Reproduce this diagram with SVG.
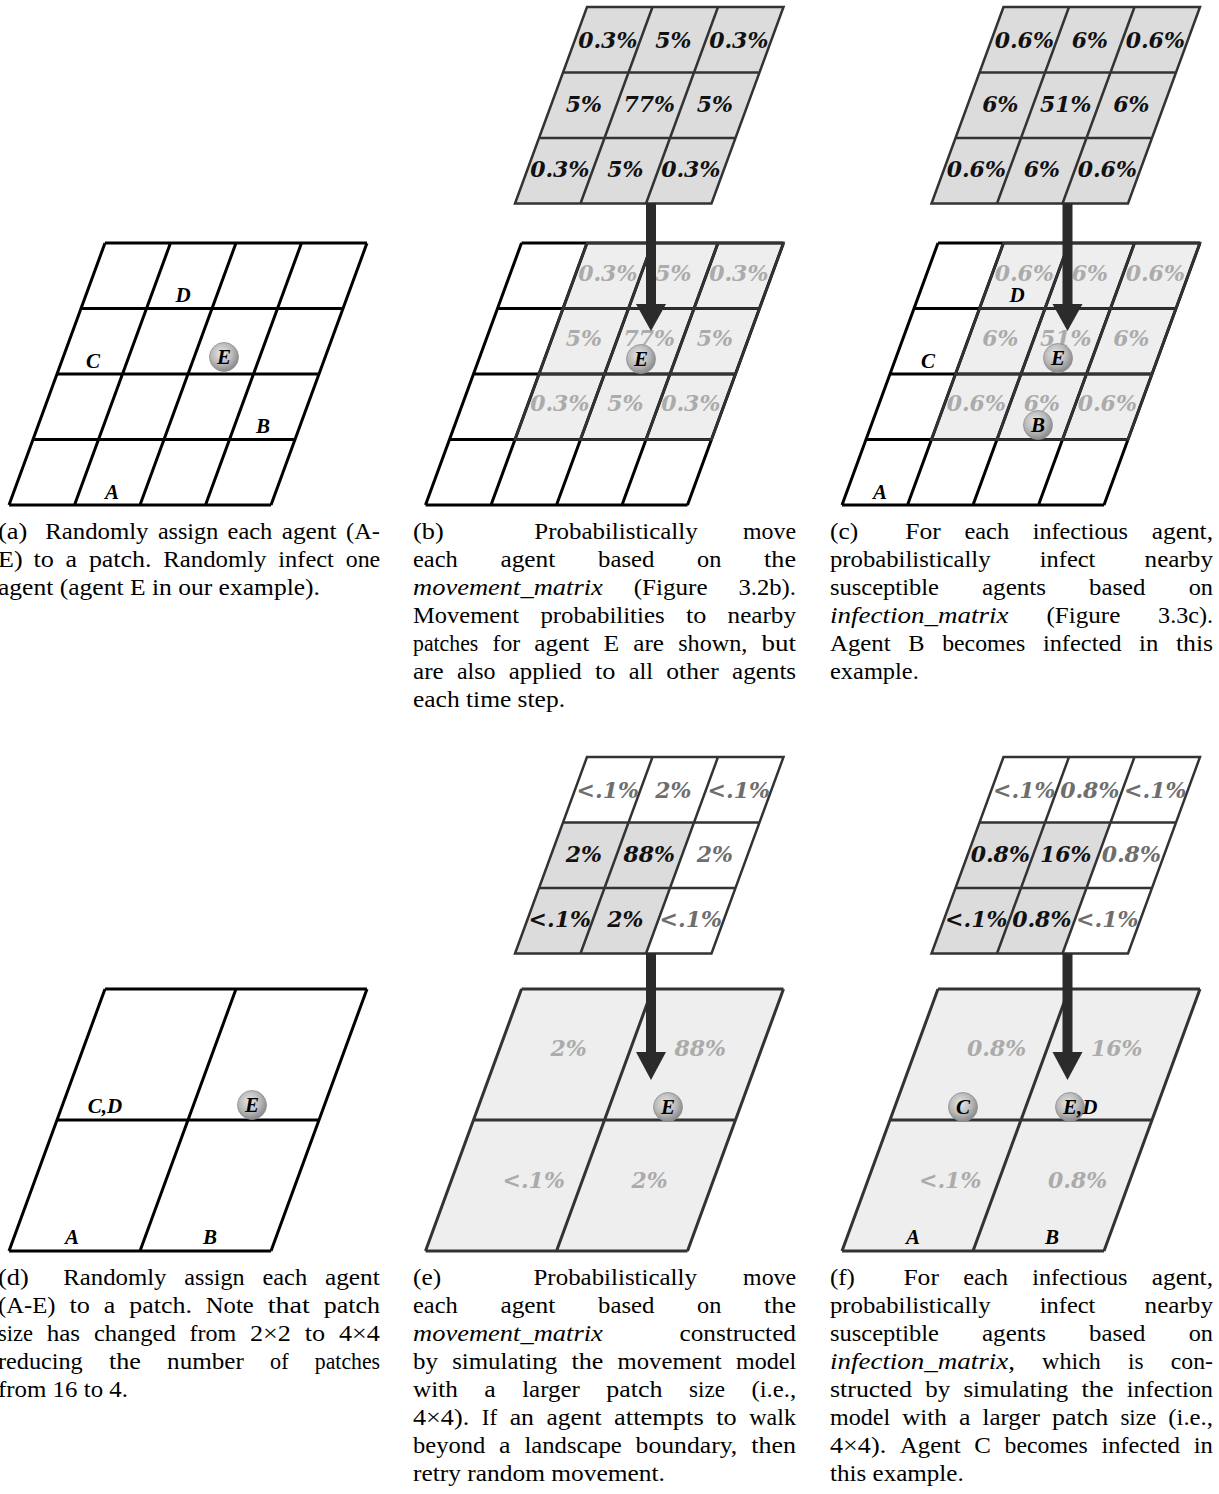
<svg xmlns="http://www.w3.org/2000/svg" width="1219" height="1494" viewBox="0 0 1219 1494">
<defs>
<style>
.cap{font-family:"Liberation Serif",serif;font-size:23px;fill:#000}
.it{font-style:italic}
.ag{font-family:"Liberation Serif",serif;font-weight:bold;font-style:italic;font-size:21px;fill:#000;text-anchor:middle}
.pc{font-family:"DejaVu Serif",serif;font-weight:bold;font-style:italic;font-size:22px;text-anchor:middle}
.ps{font-family:"DejaVu Serif",serif;font-weight:bold;font-style:italic;font-size:22px}
.k{fill:#111}.g{fill:#6e6e6e}.l{fill:#ababab}
.bk{fill:none;stroke:#000;stroke-width:3}
.dk{fill:none;stroke:#333;stroke-width:2.5}
.dk3{fill:none;stroke:#333;stroke-width:3}
.lt{fill:#eeeeee}
.mx{fill:#dcdcdc}
.wt{fill:#ffffff}
.ar{fill:#2b2b2b}
.ball{fill:url(#ball);stroke:#8f8f8f;stroke-width:0.8}
</style>
<radialGradient id="ball" cx="0.42" cy="0.38" r="0.62">
<stop offset="0" stop-color="#e8e8e8"/>
<stop offset="0.6" stop-color="#b9b9b9"/>
<stop offset="1" stop-color="#8a8a8a"/>
</radialGradient>
<path id="g4" d="M0,243H262M-24,308.5H238M-48,374H214M-72,439.5H190M-96,505H166M0,243L-96,505M65.5,243L-30.5,505M131,243L35,505M196.5,243L100.5,505M262,243L166,505"/>
<path id="g2" d="M0,989H262M-48,1120H214M-96,1251H166M0,989L-96,1251M131,989L35,1251M262,989L166,1251"/>
<path id="m3" d="M65.5,0H262L190,196.5H-6.5ZM41.5,65.5H238M17.5,131H214M131,0L59,196.5M196.5,0L124.5,196.5"/>
<path id="sub3" d="M65.5,243H262L190,439.5H-6.5ZM41.5,308.5H238M17.5,374H214M131,243L59,439.5M196.5,243L124.5,439.5"/>
</defs>
<rect width="1219" height="1494" fill="#ffffff"/>

<!-- Panel a -->
<g id="panel-a" transform="translate(105,0)">
<use href="#g4" class="bk"/>
</g>

<!-- Panel b -->
<g id="panel-b" transform="translate(521.5,0)">
<path class="lt" d="M65.5,243H262L190,439.5H-6.5Z"/>
<use href="#g4" class="bk"/>
<use href="#sub3" class="dk"/>
<g class="pc l">
<text x="86.25" y="281">0.3%</text><text x="151.75" y="281">5%</text><text x="217.25" y="281">0.3%</text>
<text x="62.25" y="346">5%</text><text x="127.75" y="346">77%</text><text x="193.25" y="346">5%</text>
<text x="38.25" y="411">0.3%</text><text x="103.75" y="411">5%</text><text x="169.25" y="411">0.3%</text>
</g>
<g id="matrix-b" transform="translate(0,7)">
<path class="mx" d="M65.5,0H262L190,196.5H-6.5Z"/>
<use href="#m3" class="dk"/>
<g class="pc k">
<text x="86.25" y="41">0.3%</text><text x="151.75" y="41">5%</text><text x="217.25" y="41">0.3%</text>
<text x="62.25" y="105">5%</text><text x="127.75" y="105">77%</text><text x="193.25" y="105">5%</text>
<text x="38.25" y="170">0.3%</text><text x="103.75" y="170">5%</text><text x="169.25" y="170">0.3%</text>
</g>
</g>
</g>

<!-- Panel c -->
<g id="panel-c" transform="translate(938,0)">
<path class="lt" d="M65.5,243H262L190,439.5H-6.5Z"/>
<use href="#g4" class="bk"/>
<use href="#sub3" class="dk"/>
<g class="pc l">
<text x="86.25" y="281">0.6%</text><text x="151.75" y="281">6%</text><text x="217.25" y="281">0.6%</text>
<text x="62.25" y="346">6%</text><text x="127.75" y="346">51%</text><text x="193.25" y="346">6%</text>
<text x="38.25" y="411">0.6%</text><text x="103.75" y="411">6%</text><text x="169.25" y="411">0.6%</text>
</g>
<g id="matrix-c" transform="translate(0,7)">
<path class="mx" d="M65.5,0H262L190,196.5H-6.5Z"/>
<use href="#m3" class="dk"/>
<g class="pc k">
<text x="86.25" y="41">0.6%</text><text x="151.75" y="41">6%</text><text x="217.25" y="41">0.6%</text>
<text x="62.25" y="105">6%</text><text x="127.75" y="105">51%</text><text x="193.25" y="105">6%</text>
<text x="38.25" y="170">0.6%</text><text x="103.75" y="170">6%</text><text x="169.25" y="170">0.6%</text>
</g>
</g>
</g>

<!-- Panel d -->
<g id="panel-d" transform="translate(105,0)">
<use href="#g2" class="bk"/>
</g>

<!-- Panel e -->
<g id="panel-e" transform="translate(521.5,0)">
<path class="lt" d="M0,989H262L166,1251H-96Z"/>
<use href="#g2" class="dk3"/>
<g class="ps l">
<text x="29" y="1056">2%</text><text x="153" y="1056">88%</text>
<text x="-19" y="1188">&lt;.1%</text><text x="110" y="1188">2%</text>
</g>
<g id="matrix-e" transform="translate(0,757)">
<path class="wt" d="M65.5,0H262L190,196.5H-6.5Z"/>
<path class="mx" d="M41.5,65.5H172.5L124.5,196.5H-6.5Z"/>
<use href="#m3" class="dk"/>
<text class="pc g" x="86.25" y="41">&lt;.1%</text><text class="pc g" x="151.75" y="41">2%</text><text class="pc g" x="217.25" y="41">&lt;.1%</text>
<text class="pc k" x="62.25" y="105">2%</text><text class="pc k" x="127.75" y="105">88%</text><text class="pc g" x="193.25" y="105">2%</text>
<text class="pc k" x="38.25" y="170">&lt;.1%</text><text class="pc k" x="103.75" y="170">2%</text><text class="pc g" x="169.25" y="170">&lt;.1%</text>
</g>
</g>

<!-- Panel f -->
<g id="panel-f" transform="translate(938,0)">
<path class="lt" d="M0,989H262L166,1251H-96Z"/>
<use href="#g2" class="dk3"/>
<g class="ps l">
<text x="29" y="1056">0.8%</text><text x="153" y="1056">16%</text>
<text x="-19" y="1188">&lt;.1%</text><text x="110" y="1188">0.8%</text>
</g>
<g id="matrix-f" transform="translate(0,757)">
<path class="wt" d="M65.5,0H262L190,196.5H-6.5Z"/>
<path class="mx" d="M41.5,65.5H172.5L124.5,196.5H-6.5Z"/>
<use href="#m3" class="dk"/>
<text class="pc g" x="86.25" y="41">&lt;.1%</text><text class="pc g" x="151.75" y="41">0.8%</text><text class="pc g" x="217.25" y="41">&lt;.1%</text>
<text class="pc k" x="62.25" y="105">0.8%</text><text class="pc k" x="127.75" y="105">16%</text><text class="pc g" x="193.25" y="105">0.8%</text>
<text class="pc k" x="38.25" y="170">&lt;.1%</text><text class="pc k" x="103.75" y="170">0.8%</text><text class="pc g" x="169.25" y="170">&lt;.1%</text>
</g>
</g>

<!-- Connectors -->
<g id="connectors" class="ar">
<rect x="646" y="203" width="10" height="102"/><polygon points="636,304 666,304 651,331"/>
<rect x="1062.5" y="203" width="10" height="102"/><polygon points="1052.5,304 1082.5,304 1067.5,331"/>
<rect x="646" y="953" width="10" height="100"/><polygon points="636,1052 666,1052 651,1080"/>
<rect x="1062.5" y="953" width="10" height="100"/><polygon points="1052.5,1052 1082.5,1052 1067.5,1080"/>
</g>

<!-- Agents -->
<g id="agents">
<g id="agents-a">
<circle class="ball" cx="224" cy="357" r="14.5"/><text class="ag" x="224" y="364">E</text>
<text class="ag" x="183" y="302">D</text><text class="ag" x="93" y="368">C</text>
<text class="ag" x="263" y="433">B</text><text class="ag" x="112" y="499">A</text>
</g>
<g id="agents-b">
<circle class="ball" cx="641" cy="359" r="14.5"/><text class="ag" x="641" y="366">E</text>
</g>
<g id="agents-c">
<text class="ag" x="1017" y="302">D</text><text class="ag" x="928" y="368">C</text>
<circle class="ball" cx="1058" cy="358" r="14.5"/><text class="ag" x="1058" y="365">E</text>
<circle class="ball" cx="1038" cy="425" r="14.5"/><text class="ag" x="1038" y="432">B</text>
<text class="ag" x="880" y="499">A</text>
</g>
<g id="agents-d">
<text class="ag" x="105" y="1113">C,D</text>
<circle class="ball" cx="252" cy="1105" r="14.5"/><text class="ag" x="252" y="1112">E</text>
<text class="ag" x="72" y="1244">A</text><text class="ag" x="210" y="1244">B</text>
</g>
<g id="agents-e">
<circle class="ball" cx="668" cy="1107" r="14.5"/><text class="ag" x="668" y="1114">E</text>
</g>
<g id="agents-f">
<circle class="ball" cx="963" cy="1107" r="14.5"/><text class="ag" x="963" y="1114">C</text>
<circle class="ball" cx="1070" cy="1107" r="14.5"/><text class="ag" x="1063" y="1114" style="text-anchor:start">E,D</text>
<text class="ag" x="913" y="1244">A</text><text class="ag" x="1052" y="1244">B</text>
</g>
</g>

<!-- Captions -->
<g id="captions" class="cap">
<!-- (a) -->
<text x="-2" y="539" textLength="29.4" lengthAdjust="spacingAndGlyphs">(a)</text>
<text x="45.3" y="539" textLength="103.2" lengthAdjust="spacingAndGlyphs">Randomly</text>
<text x="157.9" y="539" textLength="60.3" lengthAdjust="spacingAndGlyphs">assign</text>
<text x="227.6" y="539" textLength="44.7" lengthAdjust="spacingAndGlyphs">each</text>
<text x="281.7" y="539" textLength="54.9" lengthAdjust="spacingAndGlyphs">agent</text>
<text x="346" y="539" textLength="33.9" lengthAdjust="spacingAndGlyphs">(A-</text>
<text x="-2" y="567" textLength="24.6" lengthAdjust="spacingAndGlyphs">E)</text>
<text x="33.4" y="567" textLength="20.4" lengthAdjust="spacingAndGlyphs">to</text>
<text x="65.6" y="567" textLength="11.5" lengthAdjust="spacingAndGlyphs">a</text>
<text x="88.9" y="567" textLength="62.6" lengthAdjust="spacingAndGlyphs">patch.</text>
<text x="163.3" y="567" textLength="103.2" lengthAdjust="spacingAndGlyphs">Randomly</text>
<text x="278.3" y="567" textLength="55.6" lengthAdjust="spacingAndGlyphs">infect</text>
<text x="345.7" y="567" textLength="34.5" lengthAdjust="spacingAndGlyphs">one</text>
<text x="-2" y="595" textLength="322" lengthAdjust="spacingAndGlyphs">agent (agent E in our example).</text>

<!-- (b) -->
<text x="413" y="539" textLength="30.7" lengthAdjust="spacingAndGlyphs">(b)</text>
<text x="534.3" y="539" textLength="163.4" lengthAdjust="spacingAndGlyphs">Probabilistically</text>
<text x="743" y="539" textLength="53" lengthAdjust="spacingAndGlyphs">move</text>
<text x="413" y="567" textLength="44.7" lengthAdjust="spacingAndGlyphs">each</text>
<text x="500.4" y="567" textLength="54.9" lengthAdjust="spacingAndGlyphs">agent</text>
<text x="598" y="567" textLength="56.4" lengthAdjust="spacingAndGlyphs">based</text>
<text x="697.1" y="567" textLength="24.3" lengthAdjust="spacingAndGlyphs">on</text>
<text x="764.1" y="567" textLength="31.9" lengthAdjust="spacingAndGlyphs">the</text>
<text class="it" x="413" y="595" textLength="189.9" lengthAdjust="spacingAndGlyphs">movement_matrix</text>
<text x="633.7" y="595" textLength="73.9" lengthAdjust="spacingAndGlyphs">(Figure</text>
<text x="738.5" y="595" textLength="57.5" lengthAdjust="spacingAndGlyphs">3.2b).</text>
<text x="413" y="623" textLength="106.1" lengthAdjust="spacingAndGlyphs">Movement</text>
<text x="540.4" y="623" textLength="124.2" lengthAdjust="spacingAndGlyphs">probabilities</text>
<text x="685.9" y="623" textLength="20.4" lengthAdjust="spacingAndGlyphs">to</text>
<text x="727.6" y="623" textLength="68.4" lengthAdjust="spacingAndGlyphs">nearby</text>
<text x="413" y="651" textLength="65.3" lengthAdjust="spacingAndGlyphs">patches</text>
<text x="492.5" y="651" textLength="27.6" lengthAdjust="spacingAndGlyphs">for</text>
<text x="534.3" y="651" textLength="54.9" lengthAdjust="spacingAndGlyphs">agent</text>
<text x="603.4" y="651" textLength="15.7" lengthAdjust="spacingAndGlyphs">E</text>
<text x="633.3" y="651" textLength="30.7" lengthAdjust="spacingAndGlyphs">are</text>
<text x="678.2" y="651" textLength="69.1" lengthAdjust="spacingAndGlyphs">shown,</text>
<text x="761.5" y="651" textLength="34.5" lengthAdjust="spacingAndGlyphs">but</text>
<text x="413" y="679" textLength="30.7" lengthAdjust="spacingAndGlyphs">are</text>
<text x="457" y="679" textLength="38.5" lengthAdjust="spacingAndGlyphs">also</text>
<text x="508.8" y="679" textLength="72.9" lengthAdjust="spacingAndGlyphs">applied</text>
<text x="595" y="679" textLength="20.4" lengthAdjust="spacingAndGlyphs">to</text>
<text x="628.7" y="679" textLength="24.3" lengthAdjust="spacingAndGlyphs">all</text>
<text x="666.3" y="679" textLength="52.5" lengthAdjust="spacingAndGlyphs">other</text>
<text x="732.1" y="679" textLength="64" lengthAdjust="spacingAndGlyphs">agents</text>
<text x="413" y="707" textLength="152" lengthAdjust="spacingAndGlyphs">each time step.</text>

<!-- (c) -->
<text x="830" y="539" textLength="28.1" lengthAdjust="spacingAndGlyphs">(c)</text>
<text x="905.3" y="539" textLength="35.5" lengthAdjust="spacingAndGlyphs">For</text>
<text x="964.4" y="539" textLength="44.7" lengthAdjust="spacingAndGlyphs">each</text>
<text x="1032.7" y="539" textLength="95.3" lengthAdjust="spacingAndGlyphs">infectious</text>
<text x="1151.7" y="539" textLength="61.3" lengthAdjust="spacingAndGlyphs">agent,</text>
<text x="830" y="567" textLength="160.6" lengthAdjust="spacingAndGlyphs">probabilistically</text>
<text x="1039.8" y="567" textLength="55.6" lengthAdjust="spacingAndGlyphs">infect</text>
<text x="1144.6" y="567" textLength="68.4" lengthAdjust="spacingAndGlyphs">nearby</text>
<text x="830" y="595" textLength="108.9" lengthAdjust="spacingAndGlyphs">susceptible</text>
<text x="982" y="595" textLength="64" lengthAdjust="spacingAndGlyphs">agents</text>
<text x="1089.1" y="595" textLength="56.4" lengthAdjust="spacingAndGlyphs">based</text>
<text x="1188.7" y="595" textLength="24.3" lengthAdjust="spacingAndGlyphs">on</text>
<text class="it" x="830" y="623" textLength="178.5" lengthAdjust="spacingAndGlyphs">infection_matrix</text>
<text x="1046.4" y="623" textLength="73.9" lengthAdjust="spacingAndGlyphs">(Figure</text>
<text x="1158.1" y="623" textLength="54.9" lengthAdjust="spacingAndGlyphs">3.3c).</text>
<text x="830" y="651" textLength="60.7" lengthAdjust="spacingAndGlyphs">Agent</text>
<text x="908.3" y="651" textLength="16.3" lengthAdjust="spacingAndGlyphs">B</text>
<text x="942.2" y="651" textLength="83.1" lengthAdjust="spacingAndGlyphs">becomes</text>
<text x="1042.9" y="651" textLength="78.6" lengthAdjust="spacingAndGlyphs">infected</text>
<text x="1139.1" y="651" textLength="19.2" lengthAdjust="spacingAndGlyphs">in</text>
<text x="1175.9" y="651" textLength="37.2" lengthAdjust="spacingAndGlyphs">this</text>
<text x="830" y="679" textLength="88.8" lengthAdjust="spacingAndGlyphs">example.</text>

<!-- (d) -->
<text x="-2" y="1285" textLength="30.7" lengthAdjust="spacingAndGlyphs">(d)</text>
<text x="63.3" y="1285" textLength="103.2" lengthAdjust="spacingAndGlyphs">Randomly</text>
<text x="184.3" y="1285" textLength="60.3" lengthAdjust="spacingAndGlyphs">assign</text>
<text x="262.4" y="1285" textLength="44.7" lengthAdjust="spacingAndGlyphs">each</text>
<text x="324.9" y="1285" textLength="54.9" lengthAdjust="spacingAndGlyphs">agent</text>
<text x="-2" y="1313" textLength="57.5" lengthAdjust="spacingAndGlyphs">(A-E)</text>
<text x="69.5" y="1313" textLength="20.4" lengthAdjust="spacingAndGlyphs">to</text>
<text x="103.8" y="1313" textLength="11.5" lengthAdjust="spacingAndGlyphs">a</text>
<text x="129.3" y="1313" textLength="62.6" lengthAdjust="spacingAndGlyphs">patch.</text>
<text x="205.8" y="1313" textLength="47.9" lengthAdjust="spacingAndGlyphs">Note</text>
<text x="267.7" y="1313" textLength="42.2" lengthAdjust="spacingAndGlyphs">that</text>
<text x="323.8" y="1313" textLength="56.2" lengthAdjust="spacingAndGlyphs">patch</text>
<text x="-2" y="1341" textLength="34.9" lengthAdjust="spacingAndGlyphs">size</text>
<text x="46.7" y="1341" textLength="33.4" lengthAdjust="spacingAndGlyphs">has</text>
<text x="93.9" y="1341" textLength="81.8" lengthAdjust="spacingAndGlyphs">changed</text>
<text x="189.5" y="1341" textLength="46.7" lengthAdjust="spacingAndGlyphs">from</text>
<text x="250" y="1341" textLength="40.9" lengthAdjust="spacingAndGlyphs">2×2</text>
<text x="304.7" y="1341" textLength="20.4" lengthAdjust="spacingAndGlyphs">to</text>
<text x="338.9" y="1341" textLength="40.9" lengthAdjust="spacingAndGlyphs">4×4</text>
<text x="-2" y="1369" textLength="84.7" lengthAdjust="spacingAndGlyphs">reducing</text>
<text x="109" y="1369" textLength="31.9" lengthAdjust="spacingAndGlyphs">the</text>
<text x="167.1" y="1369" textLength="76.8" lengthAdjust="spacingAndGlyphs">number</text>
<text x="270.1" y="1369" textLength="18.5" lengthAdjust="spacingAndGlyphs">of</text>
<text x="314.8" y="1369" textLength="65.3" lengthAdjust="spacingAndGlyphs">patches</text>
<text x="-2" y="1397" textLength="130" lengthAdjust="spacingAndGlyphs">from 16 to 4.</text>

<!-- (e) -->
<text x="413" y="1285" textLength="28.1" lengthAdjust="spacingAndGlyphs">(e)</text>
<text x="533.5" y="1285" textLength="163.4" lengthAdjust="spacingAndGlyphs">Probabilistically</text>
<text x="743.1" y="1285" textLength="53" lengthAdjust="spacingAndGlyphs">move</text>
<text x="413" y="1313" textLength="44.7" lengthAdjust="spacingAndGlyphs">each</text>
<text x="500.4" y="1313" textLength="54.9" lengthAdjust="spacingAndGlyphs">agent</text>
<text x="598" y="1313" textLength="56.4" lengthAdjust="spacingAndGlyphs">based</text>
<text x="697.1" y="1313" textLength="24.3" lengthAdjust="spacingAndGlyphs">on</text>
<text x="764.1" y="1313" textLength="31.9" lengthAdjust="spacingAndGlyphs">the</text>
<text class="it" x="413" y="1341" textLength="189.9" lengthAdjust="spacingAndGlyphs">movement_matrix</text>
<text x="679.5" y="1341" textLength="116.5" lengthAdjust="spacingAndGlyphs">constructed</text>
<text x="413" y="1369" textLength="24.9" lengthAdjust="spacingAndGlyphs">by</text>
<text x="452.2" y="1369" textLength="104.9" lengthAdjust="spacingAndGlyphs">simulating</text>
<text x="571.4" y="1369" textLength="31.9" lengthAdjust="spacingAndGlyphs">the</text>
<text x="617.6" y="1369" textLength="104.1" lengthAdjust="spacingAndGlyphs">movement</text>
<text x="736" y="1369" textLength="60.1" lengthAdjust="spacingAndGlyphs">model</text>
<text x="413" y="1397" textLength="44.7" lengthAdjust="spacingAndGlyphs">with</text>
<text x="484.2" y="1397" textLength="11.5" lengthAdjust="spacingAndGlyphs">a</text>
<text x="522.2" y="1397" textLength="57.6" lengthAdjust="spacingAndGlyphs">larger</text>
<text x="606.3" y="1397" textLength="56.2" lengthAdjust="spacingAndGlyphs">patch</text>
<text x="689" y="1397" textLength="35.9" lengthAdjust="spacingAndGlyphs">size</text>
<text x="751.4" y="1397" textLength="44.7" lengthAdjust="spacingAndGlyphs">(i.e.,</text>
<text x="413" y="1425" textLength="56.2" lengthAdjust="spacingAndGlyphs">4×4).</text>
<text x="481.8" y="1425" textLength="15.3" lengthAdjust="spacingAndGlyphs">If</text>
<text x="509.7" y="1425" textLength="24.3" lengthAdjust="spacingAndGlyphs">an</text>
<text x="546.6" y="1425" textLength="54.9" lengthAdjust="spacingAndGlyphs">agent</text>
<text x="614.1" y="1425" textLength="89.6" lengthAdjust="spacingAndGlyphs">attempts</text>
<text x="716.3" y="1425" textLength="20.4" lengthAdjust="spacingAndGlyphs">to</text>
<text x="749.3" y="1425" textLength="46.6" lengthAdjust="spacingAndGlyphs">walk</text>
<text x="413" y="1453" textLength="72.2" lengthAdjust="spacingAndGlyphs">beyond</text>
<text x="499.1" y="1453" textLength="11.5" lengthAdjust="spacingAndGlyphs">a</text>
<text x="524.5" y="1453" textLength="97.2" lengthAdjust="spacingAndGlyphs">landscape</text>
<text x="635.6" y="1453" textLength="101.7" lengthAdjust="spacingAndGlyphs">boundary,</text>
<text x="751.2" y="1453" textLength="44.7" lengthAdjust="spacingAndGlyphs">then</text>
<text x="413" y="1481" textLength="251.9" lengthAdjust="spacingAndGlyphs">retry random movement.</text>

<!-- (f) -->
<text x="830" y="1285" textLength="24.9" lengthAdjust="spacingAndGlyphs">(f)</text>
<text x="903.4" y="1285" textLength="35.5" lengthAdjust="spacingAndGlyphs">For</text>
<text x="963.2" y="1285" textLength="44.7" lengthAdjust="spacingAndGlyphs">each</text>
<text x="1032.2" y="1285" textLength="95.3" lengthAdjust="spacingAndGlyphs">infectious</text>
<text x="1151.7" y="1285" textLength="61.3" lengthAdjust="spacingAndGlyphs">agent,</text>
<text x="830" y="1313" textLength="160.6" lengthAdjust="spacingAndGlyphs">probabilistically</text>
<text x="1039.8" y="1313" textLength="55.6" lengthAdjust="spacingAndGlyphs">infect</text>
<text x="1144.6" y="1313" textLength="68.4" lengthAdjust="spacingAndGlyphs">nearby</text>
<text x="830" y="1341" textLength="108.9" lengthAdjust="spacingAndGlyphs">susceptible</text>
<text x="982" y="1341" textLength="64" lengthAdjust="spacingAndGlyphs">agents</text>
<text x="1089.1" y="1341" textLength="56.4" lengthAdjust="spacingAndGlyphs">based</text>
<text x="1188.7" y="1341" textLength="24.3" lengthAdjust="spacingAndGlyphs">on</text>
<text x="830" y="1369" textLength="184.9" lengthAdjust="spacingAndGlyphs"><tspan class="it">infection_matrix</tspan>,</text>
<text x="1042.1" y="1369" textLength="58.8" lengthAdjust="spacingAndGlyphs">which</text>
<text x="1128.1" y="1369" textLength="15.5" lengthAdjust="spacingAndGlyphs">is</text>
<text x="1170.8" y="1369" textLength="42.2" lengthAdjust="spacingAndGlyphs">con-</text>
<text x="830" y="1397" textLength="82" lengthAdjust="spacingAndGlyphs">structed</text>
<text x="925.3" y="1397" textLength="24.9" lengthAdjust="spacingAndGlyphs">by</text>
<text x="963.4" y="1397" textLength="104.9" lengthAdjust="spacingAndGlyphs">simulating</text>
<text x="1081.6" y="1397" textLength="31.9" lengthAdjust="spacingAndGlyphs">the</text>
<text x="1126.7" y="1397" textLength="86.3" lengthAdjust="spacingAndGlyphs">infection</text>
<text x="830" y="1425" textLength="60.1" lengthAdjust="spacingAndGlyphs">model</text>
<text x="902.2" y="1425" textLength="44.7" lengthAdjust="spacingAndGlyphs">with</text>
<text x="958.9" y="1425" textLength="11.5" lengthAdjust="spacingAndGlyphs">a</text>
<text x="982.5" y="1425" textLength="57.6" lengthAdjust="spacingAndGlyphs">larger</text>
<text x="1052.1" y="1425" textLength="56.2" lengthAdjust="spacingAndGlyphs">patch</text>
<text x="1120.4" y="1425" textLength="35.9" lengthAdjust="spacingAndGlyphs">size</text>
<text x="1168.3" y="1425" textLength="44.7" lengthAdjust="spacingAndGlyphs">(i.e.,</text>
<text x="830" y="1453" textLength="56.2" lengthAdjust="spacingAndGlyphs">4×4).</text>
<text x="899.9" y="1453" textLength="60.7" lengthAdjust="spacingAndGlyphs">Agent</text>
<text x="974.3" y="1453" textLength="16.6" lengthAdjust="spacingAndGlyphs">C</text>
<text x="1004.6" y="1453" textLength="83.1" lengthAdjust="spacingAndGlyphs">becomes</text>
<text x="1101.4" y="1453" textLength="78.6" lengthAdjust="spacingAndGlyphs">infected</text>
<text x="1193.7" y="1453" textLength="19.2" lengthAdjust="spacingAndGlyphs">in</text>
<text x="830" y="1481" textLength="133.7" lengthAdjust="spacingAndGlyphs">this example.</text>
</g>
</svg>
